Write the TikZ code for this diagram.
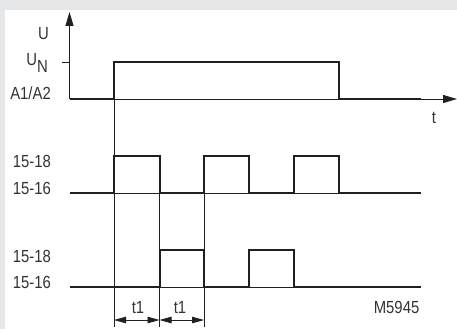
\documentclass[tikz,border=0pt]{standalone}
\usepackage{fontspec}
\setmainfont{Liberation Sans}[FakeStretch=0.85]
\usetikzlibrary{arrows.meta}
\definecolor{bggray}{HTML}{E6E7E8}
\definecolor{ink}{HTML}{231F20}
\definecolor{txt}{HTML}{333333}
\tikzset{
  lbl/.style={inner sep=0pt, text=txt, font=\fontsize{17.5}{19}\selectfont},
  thinline/.style={line width=0.8pt, draw=ink},
  sig/.style={line width=2pt, draw=ink, line join=miter},
  axarrow/.style={line width=0.9pt, draw=ink, -{Triangle[length=14pt,width=8pt]}},
  dimarrow/.style={line width=0.8pt, draw=ink, {Triangle[length=12pt,width=6.5pt]}-{Triangle[length=12pt,width=6.5pt]}}
}
\begin{document}
\begin{tikzpicture}[x=1pt,y=-1pt]
\useasboundingbox (0,0) rectangle (457,329);
\fill[bggray] (0,0) rectangle (457,329);
\fill[white] (5,10) rectangle (457,329);
% coordinates
\coordinate (o) at (69.5,99);
\coordinate (ytip) at (69.5,12);
\coordinate (xtip) at (457,99);
% axes
\draw[axarrow] (o) -- (ytip);
\draw[axarrow] (o) -- (xtip);
\draw[thinline] (62,62) -- (69.5,62);
% A1/A2 signal
\draw[sig] (69.5,99) -- (114,99) -- (114,62) -- (339,62) -- (339,99) -- (420.7,99);
% row 2
\draw[thinline] (69.5,193.3) -- (420.7,193.3);
\draw[sig] (69.5,193.3) -- (114,193.3) -- (114,155.5) -- (159.5,155.5) -- (159.5,193.3) -- (204,193.3) -- (204,155.5) -- (249,155.5) -- (249,193.3) -- (294,193.3) -- (294,155.5) -- (339,155.5) -- (339,193.3) -- (420.7,193.3);
% row 3
\draw[thinline] (69.5,287) -- (420.7,287);
\draw[sig] (69.5,287) -- (159.5,287) -- (159.5,249.5) -- (204,249.5) -- (204,287) -- (249,287) -- (249,249.5) -- (294,249.5) -- (294,287) -- (420.7,287);
% vertical guides
\coordinate (g1) at (114,327);
\coordinate (g2) at (159.5,327);
\coordinate (g3) at (204,327);
\draw[thinline] (114,62) -- (g1);
\draw[thinline] (159.5,155.5) -- (g2);
\draw[thinline] (204,155.5) -- (g3);
% t1 dimension arrows
\coordinate (a1) at (114,320);
\coordinate (a2) at (159.5,320);
\coordinate (a3) at (204,320);
\draw[dimarrow] (a1) -- (a2);
\draw[dimarrow] (a2) -- (a3);
% labels
\node[lbl, anchor=base east] (lU) at (49,40) {U};
\node[lbl, anchor=base east] (lUN) at (48,65) {U\raisebox{-7pt}{N}};
\node[lbl, anchor=base east] (lA) at (51,99) {A1/A2};
\node[lbl, anchor=base] (lt) at (434,123) {t};
\node[lbl, anchor=base east] (l1) at (51,167) {15-18};
\node[lbl, anchor=base east] (l2) at (51,194) {15-16};
\node[lbl, anchor=base east] (l3) at (51,262) {15-18};
\node[lbl, anchor=base east] (l4) at (51,288) {15-16};
\node[lbl, anchor=base] (lt1) at (138,313) {t1};
\node[lbl, anchor=base] (lt2) at (180,313) {t1};
\node[lbl, anchor=base east] (lM) at (419.5,313) {M5945};
\end{tikzpicture}
\end{document}
